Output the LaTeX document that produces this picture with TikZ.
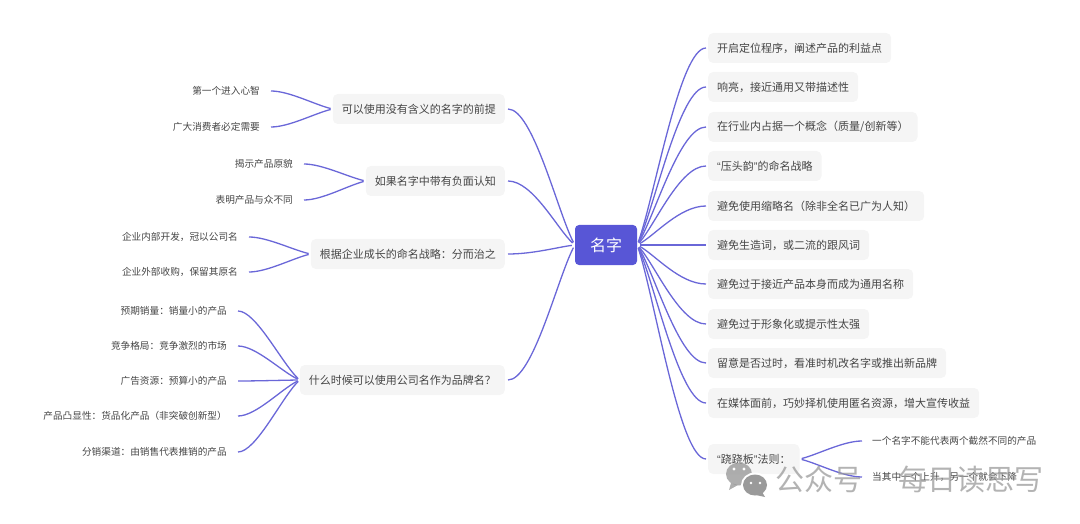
\documentclass[tikz,border=0pt]{standalone}
\usepackage{fontspec}
\setmainfont{Noto Sans CJK SC}
\newfontfamily\latinq{Liberation Sans}
\usetikzlibrary{calc}
\definecolor{rootc}{HTML}{5856D6}
\definecolor{linec}{HTML}{6A67D8}
\definecolor{boxc}{HTML}{F5F5F5}
\definecolor{txtc}{HTML}{454545}
\definecolor{wmc}{HTML}{9A9A9A}
\tikzset{
  rootbox/.style={fill=rootc,rounded corners=4pt,text=white,font=\fontsize{16}{18}\selectfont,minimum width=62pt,minimum height=40pt,inner sep=0pt},
  topicr/.style={fill=boxc,rounded corners=5pt,text=txtc,font=\fontsize{11}{13}\selectfont,anchor=west,minimum height=30pt,inner xsep=9pt,inner ysep=0pt},
  topicl/.style={topicr,anchor=east},
  leafl/.style={text=txtc,font=\fontsize{9.65}{11}\selectfont,anchor=east,inner sep=0pt},
  leafr/.style={text=txtc,font=\fontsize{9.65}{11}\selectfont,anchor=west,inner sep=0pt},
  conn/.style={draw=linec,line width=1.3pt},
  wm/.style={text=wmc,font=\fontsize{29}{31}\selectfont,anchor=west,inner sep=0pt,opacity=.75}
}
\newcommand{\lnk}[4]{\draw[conn,shorten <=#3pt,shorten >=#4pt] (#1) .. controls ($(#1)!.25!(#2)$) and ($(#1 |- #2)!.6!(#2)$) .. (#2);}
\begin{document}
\begin{tikzpicture}[x=1pt,y=-1pt]
\useasboundingbox (0,0) rectangle (1080,524);
\node[rootbox] (c) at (606,245) {名字};
% right topics
\node[topicr] (r1) at (708,48) {开启定位程序，阐述产品的利益点};
\node[topicr] (r2) at (708,87) {响亮，接近通用又带描述性};
\node[topicr] (r3) at (708,127) {在行业内占据一个概念（质量/创新等）};
\node[topicr] (r4) at (708,166) {{\latinq “}压头韵{\latinq ”}的命名战略};
\node[topicr] (r5) at (708,206) {避免使用缩略名（除非全名已广为人知）};
\node[topicr] (r6) at (708,245) {避免生造词，或二流的跟风词};
\node[topicr] (r7) at (708,284) {避免过于接近产品本身而成为通用名称};
\node[topicr] (r8) at (708,324) {避免过于形象化或提示性太强};
\node[topicr] (r9) at (708,363) {留意是否过时，看准时机改名字或推出新品牌};
\node[topicr] (r10) at (708,403) {在媒体面前，巧妙择机使用匿名资源，增大宣传收益};
\node[topicr] (r11) at (708,459) {{\latinq “}跷跷板{\latinq ”}法则：};
\node[leafr] (r11a) at (872,441) {一个名字不能代表两个截然不同的产品};
\node[leafr] (r11b) at (872,477) {当其中一个上升，另一个就会下降};
% left topics
\node[topicl] (l1) at (505,109) {可以使用没有含义的名字的前提};
\node[topicl] (l2) at (505,181) {如果名字中带有负面认知};
\node[topicl] (l3) at (505,254) {根据企业成长的命名战略：分而治之};
\node[topicl] (l4) at (505,380) {什么时候可以使用公司名作为品牌名？};
% left leaves
\node[leafl] (a1) at (260,91) {第一个进入心智};
\node[leafl] (a2) at (260,127) {广大消费者必定需要};
\node[leafl] (b1) at (293,164) {揭示产品原貌};
\node[leafl] (b2) at (293,200) {表明产品与众不同};
\node[leafl] (d1) at (238,237) {企业内部开发，冠以公司名};
\node[leafl] (d2) at (238,272) {企业外部收购，保留其原名};
\node[leafl] (e1) at (227,311) {预期销量：销量小的产品};
\node[leafl] (e2) at (227,346) {竞争格局：竞争激烈的市场};
\node[leafl] (e3) at (227,381) {广告资源：预算小的产品};
\node[leafl] (e4) at (227,416) {产品凸显性：货品化产品（非突破创新型）};
\node[leafl] (e5) at (227,452) {分销渠道：由销售代表推销的产品};
% connectors
\foreach \n in {r1,r2,r3,r4,r5,r6,r7,r8,r9,r10,r11}{\lnk{c.east}{\n.west}{3}{2}}
\foreach \n in {l1,l2,l3,l4}{\lnk{c.west}{\n.east}{3}{3}}
\foreach \n in {a1,a2}{\lnk{l1.west}{\n.east}{2}{11}}
\foreach \n in {b1,b2}{\lnk{l2.west}{\n.east}{2}{11}}
\foreach \n in {d1,d2}{\lnk{l3.west}{\n.east}{2}{11}}
\foreach \n in {e1,e2,e3,e4,e5}{\lnk{l4.west}{\n.east}{2}{11}}
\foreach \n in {r11a,r11b}{\lnk{r11.east}{\n.west}{2}{10}}
% watermark
\fill[wmc,opacity=.8] (739,474) ellipse (13pt and 11.5pt);
\fill[wmc,opacity=.8] (731,483) -- (729,490) -- (738,485) -- cycle;
\fill[white] (755,485) ellipse (14pt and 12.5pt);
\fill[wmc] (755,485) ellipse (12pt and 10.5pt);
\fill[wmc] (762,492) -- (765,497) -- (756,495) -- cycle;
\fill[white] (734,469) circle (1.6pt) (744,469) circle (1.6pt) (751,483) circle (1.4pt) (760,483) circle (1.4pt);
\node[wm] (w1) at (775,479) {公众号};
\node[wm,font=\fontsize{20}{22}\selectfont] (w2) at (877,479) {·};
\node[wm] (w3) at (898,479) {每日读思写};
\end{tikzpicture}
\end{document}
